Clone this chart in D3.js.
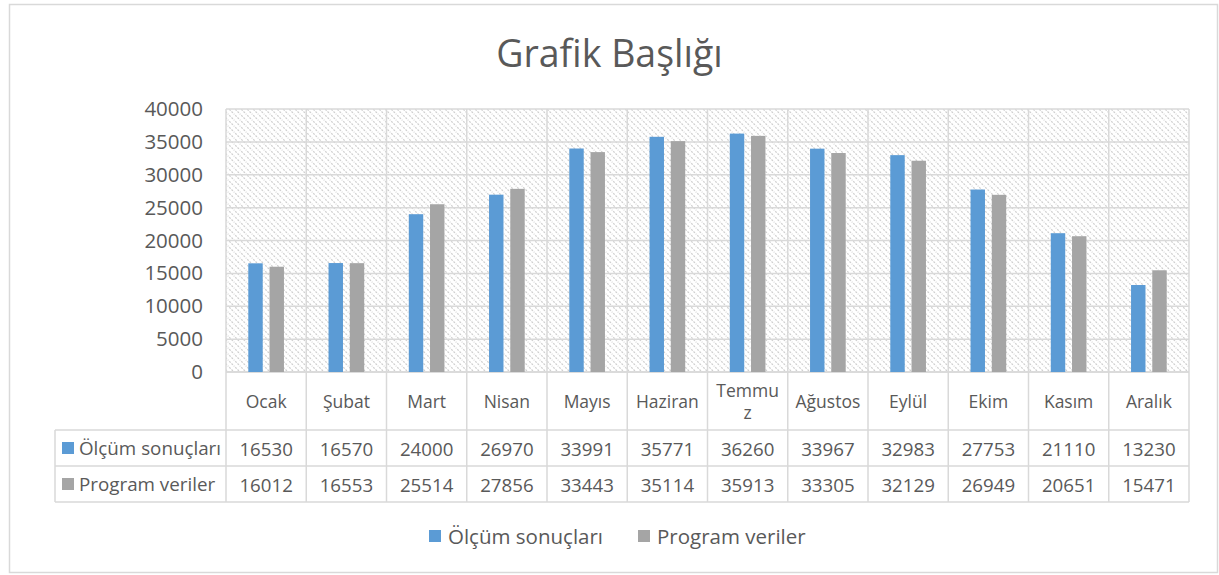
<!DOCTYPE html>
<html><head><meta charset="utf-8">
<script src="https://cdn.jsdelivr.net/npm/d3@7"></script>
<style>body{margin:0;background:#fff;} svg{display:block;}</style>
</head><body>
<svg id="c" width="1219" height="575"></svg>
<script>
const categories = ["Ocak","Şubat","Mart","Nisan","Mayıs","Haziran","Temmuz","Ağustos","Eylül","Ekim","Kasım","Aralık"];
const categoryLines = [["Ocak"],["Şubat"],["Mart"],["Nisan"],["Mayıs"],["Haziran"],["Temmu","z"],["Ağustos"],["Eylül"],["Ekim"],["Kasım"],["Aralık"]];
const seriesNames = ["Ölçüm sonuçları","Program veriler"];
const olcum = [16530,16570,24000,26970,33991,35771,36260,33967,32983,27753,21110,13230];
const program = [16012,16553,25514,27856,33443,35114,35913,33305,32129,26949,20651,15471];
const yTicks = [0,5000,10000,15000,20000,25000,30000,35000,40000];
const colors = ["#5B9BD5","#A5A5A5"];
const title = "Grafik Başlığı";

const svg = d3.select("#c");
const font = "'Open Sans', sans-serif";
const txt = "#595959";
const grid = "#d9d9d9";

// outer border
svg.append("rect").attr("x",9.5).attr("y",4.5).attr("width",1208).attr("height",568)
  .attr("fill","#fff").attr("stroke","#d9d9d9").attr("stroke-width",1.5);

const L = 226, R = 1189, T = 109, B = 372;
const x = d3.scaleBand().domain(categories).range([L,R]);
const y = d3.scaleLinear().domain([0,40000]).range([B,T]);
const sub = d3.scaleBand().domain(seriesNames).range([0, x.bandwidth()]).paddingInner(0.32).paddingOuter(1.05);

// hatch pattern
const defs = svg.append("defs");
const pat = defs.append("pattern").attr("id","hatch").attr("patternUnits","userSpaceOnUse")
  .attr("width",6).attr("height",6);
pat.append("rect").attr("width",6).attr("height",6).attr("fill","#fff");
pat.append("path").attr("d","M-1,-1 L7,7 M-1,5 L1,7 M5,-1 L7,1").attr("stroke","#cfcfcf")
  .attr("stroke-width",1.2).attr("stroke-dasharray","2,1.2");

svg.append("rect").attr("x",L).attr("y",T).attr("width",R-L).attr("height",B-T).attr("fill","url(#hatch)");

// horizontal gridlines
svg.append("g").selectAll("line").data(yTicks).join("line")
  .attr("x1",L).attr("x2",R).attr("y1",d=>y(d)).attr("y2",d=>y(d))
  .attr("stroke",grid).attr("stroke-width",1.5);

// y axis labels
const yAxis = d3.axisLeft(y).tickValues(yTicks).tickSize(0).tickPadding(23).tickFormat(d3.format("d"));
const ya = svg.append("g").attr("transform",`translate(${L},0)`).call(yAxis);
ya.select(".domain").remove();
ya.selectAll("text").attr("font-family",font).attr("font-size",20.5).attr("fill",txt);

// table geometry
const rowH = [372,430,466,502];
const tableLeft = 55;

// vertical lines at category boundaries (plot + table)
const bounds = categories.map(c=>x(c)).concat([R]);
svg.append("g").selectAll("line").data(bounds).join("line")
  .attr("x1",d=>d).attr("x2",d=>d).attr("y1",T).attr("y2",rowH[3])
  .attr("stroke",grid).attr("stroke-width",1.5);
// table horizontal lines
svg.append("line").attr("x1",L).attr("x2",R).attr("y1",rowH[0]).attr("y2",rowH[0]).attr("stroke",grid).attr("stroke-width",1.5);
[rowH[1],rowH[2],rowH[3]].forEach(h=>{
  svg.append("line").attr("x1",tableLeft).attr("x2",R).attr("y1",h).attr("y2",h).attr("stroke",grid).attr("stroke-width",1.5);
});
svg.append("line").attr("x1",tableLeft).attr("x2",tableLeft).attr("y1",rowH[1]).attr("y2",rowH[3]).attr("stroke",grid).attr("stroke-width",1.5);

// bars
const data = [olcum, program];
data.forEach((vals,si)=>{
  svg.append("g").selectAll("rect").data(vals).join("rect")
    .attr("x",(d,i)=>x(categories[i])+sub(seriesNames[si]))
    .attr("width",sub.bandwidth())
    .attr("y",d=>y(d)).attr("height",d=>B-y(d))
    .attr("fill",colors[si]);
});

// category header labels
const catG = svg.append("g");
categoryLines.forEach((lines,i)=>{
  const cx = x(categories[i]) + x.bandwidth()/2;
  const cy = (rowH[0]+rowH[1])/2;
  const lh = 22;
  lines.forEach((ln,j)=>{
    catG.append("text").attr("x",cx).attr("y",cy + (j-(lines.length-1)/2)*lh)
      .attr("text-anchor","middle").attr("dominant-baseline","central")
      .attr("font-family",font).attr("font-size",17.5).attr("fill",txt).text(ln);
  });
});

// table rows
data.forEach((vals,si)=>{
  const cy = (rowH[si+1]+rowH[si+2])/2;
  svg.append("rect").attr("x",62).attr("y",cy-6).attr("width",12).attr("height",12).attr("fill",colors[si]);
  svg.append("text").attr("x",79).attr("y",cy).attr("dominant-baseline","central")
    .attr("font-family",font).attr("font-size",18.8).attr("fill",txt).text(seriesNames[si]);
  svg.append("g").selectAll("text").data(vals).join("text")
    .attr("x",(d,i)=>x(categories[i])+x.bandwidth()/2).attr("y",cy)
    .attr("text-anchor","middle").attr("dominant-baseline","central")
    .attr("font-family",font).attr("font-size",18.7).attr("fill",txt).text(d=>d);
});

// title
svg.append("text").attr("x",609.5).attr("y",52).attr("text-anchor","middle").attr("dominant-baseline","central")
  .attr("font-family",font).attr("font-size",37.5).attr("fill",txt).text(title);

// legend
const leg = svg.append("g");
const legX = [429, 638];
seriesNames.forEach((n,i)=>{
  leg.append("rect").attr("x",legX[i]).attr("y",530).attr("width",12).attr("height",12).attr("fill",colors[i]);
  leg.append("text").attr("x",legX[i]+19).attr("y",536).attr("dominant-baseline","central")
    .attr("font-family",font).attr("font-size",20.5).attr("fill",txt).text(n);
});
</script>
</body></html>
